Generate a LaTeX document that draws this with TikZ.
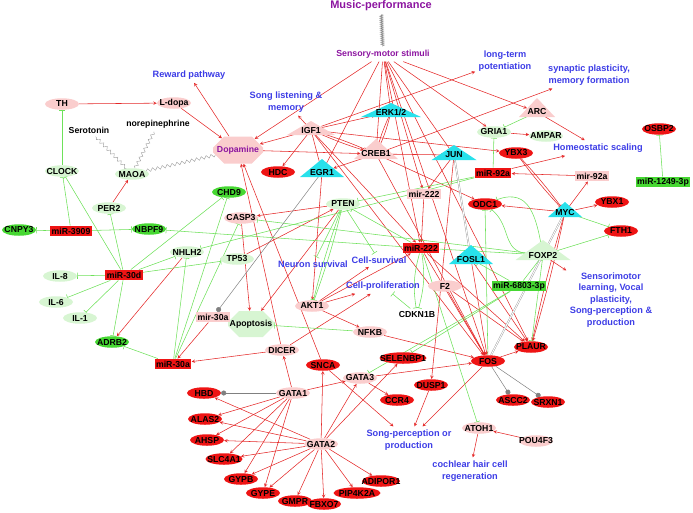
\documentclass[tikz,border=0pt]{standalone}
\usepackage{fontspec}
\setmainfont{Liberation Sans}
\usetikzlibrary{arrows,shapes.geometric,shapes.misc,decorations.pathmorphing}
\definecolor{actred}{RGB}{228,40,40}
\definecolor{inhgreen}{RGB}{110,225,90}
\definecolor{pinknode}{RGB}{250,205,205}
\definecolor{palegreen}{RGB}{215,245,210}
\definecolor{brightgreen}{RGB}{70,215,50}
\definecolor{rednode}{RGB}{238,20,20}
\definecolor{tfcyan}{RGB}{40,225,235}
\definecolor{termblue}{RGB}{60,60,230}
\definecolor{stimpurple}{RGB}{140,20,160}
\pgfdeclarelayer{edges}
\pgfsetlayers{edges,main}
\tikzset{
	every node/.style = {font = \bfseries\fontsize{8.7}{9}\selectfont},
	gene/.style = {ellipse, minimum width = 34pt, minimum height = 11.5pt, inner xsep = -8pt, inner ysep = -1.5pt},
	pink gene/.style = {gene, fill = pinknode},
	pale gene/.style = {gene, fill = palegreen},
	green gene/.style = {gene, fill = brightgreen},
	red gene/.style = {gene, fill = rednode},
	mirna/.style = {rectangle, minimum width = 34pt, minimum height = 10.5pt, inner xsep = 1.5pt, inner ysep = 0pt},
	red mir/.style = {mirna, fill = rednode},
	pink mir/.style = {mirna, fill = pinknode},
	green mir/.style = {mirna, fill = brightgreen},
	tri label/.style = {inner sep = 0.5pt},
	octa/.style = {chamfered rectangle, chamfered rectangle xsep = 7pt, chamfered rectangle ysep = 7pt, inner xsep = -5pt, inner ysep = 0pt},
	term/.style = {text = termblue, align = center, font = \bfseries\fontsize{9.2}{11.5}\selectfont},
	stim/.style = {text = stimpurple},
	act/.style = {->, >=stealth, draw = actred, line width = 0.55pt},
	inh/.style = {-|, draw = inhgreen, line width = 0.55pt},
	bind/.style = {-*, draw = gray, line width = 0.5pt},
	complex/.style = {draw = gray!80, double = white, double distance = 0.9pt, line width = 0.4pt},
	wavy/.style = {draw = gray!80, decorate, decoration = {snake, amplitude = 1.6pt, segment length = 5pt}},
	ladder/.style = {draw = gray, line width = 0.6pt, decorate, decoration = {zigzag, amplitude = 1.5pt, segment length = 2pt}}
}

\begin{document}
\begin{tikzpicture}[x = 1pt, y = 1pt]
	\useasboundingbox (0, 0) rectangle (693, -512);

	% stimuli and outcomes
	\node [stim, font = \bfseries\fontsize{11}{12}\selectfont] (music) at (381, -6) {Music-performance};
	\node [stim, font = \bfseries\fontsize{8.8}{10}\selectfont] (sms) at (383, -54) {Sensory-motor stimuli};
	\node [term] (reward) at (189, -75) {Reward pathway};
	\node [term] (songmem) at (286, -102) {Song listening \&\\memory};
	\node [term] (ltp) at (505, -61) {long-term\\potentiation};
	\node [term] (synplast) at (589, -75) {synaptic plasticity,\\memory formation};
	\node [term] (homeo) at (598, -148) {Homeostatic scaling};
	\node [term] (neursurv) at (313, -264) {Neuron survival};
	\node [term] (cellsurv) at (379, -260) {Cell-survival};
	\node [term] (cellprol) at (383, -286) {Cell-proliferation};
	\node [term] (sensori) at (611, -300) {Sensorimotor\\learning, Vocal\\plasticity,\\Song-perception \&\\production};
	\node [term] (songperc) at (409, -440) {Song-perception or\\production};
	\node [term] (cochlear) at (470, -471) {cochlear hair cell\\regeneration};
	\node (serotonin) at (89, -130) {Serotonin};
	\node (norepi) at (158, -124) {norepinephrine};

	% triangles behind labels
	\foreach \tx/\ty/\tw/\th/\tc in {391/112/60/14/tfcyan, 454/155/45/15/tfcyan, 322/172/44/18/tfcyan,
		565/212/34/15/tfcyan, 471/259/44/19/tfcyan, 543/255/55/20/palegreen,
		376/154/44/20/pinknode, 311/130/48/14/pinknode, 537/112/36/19/pinknode}{
		\fill [\tc] ({\tx-\tw/2}, {-\ty-5}) -- (\tx, {-\ty-5+\th}) -- ({\tx+\tw/2}, {-\ty-5}) -- cycle;
	}
	\node [tri label] (ERK) at (391, -112) {ERK1/2};
	\node [tri label] (JUN) at (454, -155) {JUN};
	\node [tri label] (EGR1) at (322, -172) {EGR1};
	\node [tri label] (MYC) at (565, -212) {MYC};
	\node [tri label] (FOSL1) at (471, -259) {FOSL1};
	\node [tri label] (FOXP2) at (543, -255) {FOXP2};
	\node [tri label] (CREB1) at (376, -154) {CREB1};
	\node [tri label] (IGF1) at (311, -130) {IGF1};
	\node [tri label] (ARC) at (537, -112) {ARC};

	\node [octa, fill = pinknode, text = stimpurple, minimum width = 50pt, minimum height = 27pt] (Dopa) at (238, -150) {Dopamine};
	\node [octa, fill = palegreen, minimum width = 46pt, minimum height = 26pt] (Apop) at (251, -324) {Apoptosis};

	% genes
	\node [pink gene] (TH) at (62, -104) {TH};
	\node [pink gene] (Ldopa) at (174, -103) {L-dopa};
	\node [pink gene] (CASP3) at (241, -218) {CASP3};
	\node [pink gene] (AKT1) at (312, -306) {AKT1};
	\node [pink gene] (F2) at (445, -286) {F2};
	\node [pink gene] (NFKB) at (370, -332) {NFKB};
	\node [pink gene] (DICER) at (282, -350) {DICER};
	\node [pink gene] (GATA3) at (360, -378) {GATA3};
	\node [pink gene] (GATA1) at (293, -393) {GATA1};
	\node [pink gene] (GATA2) at (321, -444) {GATA2};
	\node [pink gene] (ATOH1) at (479, -428) {ATOH1};
	\node [pink gene] (POU4F3) at (536, -441) {POU4F3};
	\node [gene] (CDKN1B) at (417, -314) {CDKN1B};
	\node [pale gene] (CLOCK) at (62, -171) {CLOCK};
	\node [pale gene] (MAOA) at (132, -174) {MAOA};
	\node [pale gene] (PER2) at (109, -208) {PER2};
	\node [pale gene] (GRIA1) at (494, -132) {GRIA1};
	\node [pale gene] (AMPAR) at (546, -136) {AMPAR};
	\node [pale gene] (PTEN) at (343, -204) {PTEN};
	\node [pale gene] (NHLH2) at (187, -252) {NHLH2};
	\node [pale gene] (TP53) at (237, -259) {TP53};
	\node [pale gene] (IL8) at (60, -276) {IL-8};
	\node [pale gene] (IL6) at (56, -302) {IL-6};
	\node [pale gene] (IL1) at (80, -318) {IL-1};
	\node [green gene] (CHD9) at (229, -192) {CHD9};
	\node [green gene] (CNPY3) at (19, -230) {CNPY3};
	\node [green gene] (NBPF9) at (149, -229) {NBPF9};
	\node [green gene] (ADRB2) at (112, -342) {ADRB2};
	\node [red gene] (HDC) at (278, -172) {HDC};
	\node [red gene] (YBX3) at (516, -153) {YBX3};
	\node [red gene] (OSBP2) at (659, -129) {OSBP2};
	\node [red gene] (ODC1) at (485, -204) {ODC1};
	\node [red gene] (YBX1) at (612, -202) {YBX1};
	\node [red gene] (FTH1) at (621, -231) {FTH1};
	\node [red gene] (FOS) at (488, -361) {FOS};
	\node [red gene] (PLAUR) at (531, -347) {PLAUR};
	\node [red gene] (ASCC2) at (513, -400) {ASCC2};
	\node [red gene] (SRXN1) at (548, -402) {SRXN1};
	\node [red gene] (SNCA) at (323, -365) {SNCA};
	\node [red gene, minimum width = 47pt] (SELENBP1) at (403, -358) {SELENBP1};
	\node [red gene] (DUSP1) at (431, -385) {DUSP1};
	\node [red gene] (CCR4) at (397, -400) {CCR4};
	\node [red gene] (HBD) at (204, -393) {HBD};
	\node [red gene] (ALAS2) at (205, -419) {ALAS2};
	\node [red gene] (AHSP) at (207, -440) {AHSP};
	\node [red gene, minimum width = 37pt] (SLC4A1) at (224, -459) {SLC4A1};
	\node [red gene] (GYPB) at (241, -479) {GYPB};
	\node [red gene] (GYPE) at (263, -493) {GYPE};
	\node [red gene] (GMPR) at (295, -501) {GMPR};
	\node [red gene] (FBXO7) at (324, -504) {FBXO7};
	\node [red gene, minimum width = 47pt] (PIP4K2A) at (357, -493) {PIP4K2A};
	\node [red gene, minimum width = 38pt] (ADIPOR1) at (381, -481) {ADIPOR1};

	% micro rnas
	\node [red mir] (miR3909) at (71, -231) {miR-3909};
	\node [red mir] (miR30d) at (124, -275) {miR-30d};
	\node [pink mir] (mir30a) at (213, -317) {mir-30a};
	\node [red mir] (miR30a) at (173, -364) {miR-30a};
	\node [red mir] (miR222) at (421, -248) {miR-222};
	\node [pink mir] (mir222) at (424, -194) {mir-222};
	\node [red mir] (miR92a) at (493, -173) {miR-92a};
	\node [pink mir] (mir92a) at (592, -176) {mir-92a};
	\node [green mir] (miR1249) at (663, -182) {miR-1249-3p};
	\node [green mir] (miR6803) at (519, -286) {miR-6803-3p};

	\begin{pgfonlayer}{edges}
		\draw [ladder] (music) -- (sms);
		\foreach \a in {serotonin, norepi, Dopa}{
			\draw [wavy] (MAOA) -- (\a);
		}

		% activation
		\foreach \a/\b in {TH/Ldopa, Ldopa/Dopa, Dopa/reward, sms/Dopa, sms/ERK, sms/EGR1, sms/CREB1,
			sms/JUN, sms/GRIA1, sms/ARC, sms/mir222, sms/miR222, sms/FOS, sms/PLAUR,
			IGF1/Dopa, IGF1/songmem, IGF1/HDC, IGF1/EGR1, IGF1/ERK, IGF1/ltp, IGF1/YBX3,
			IGF1/miR222, IGF1/FOS, Dopa/CREB1, CREB1/JUN, CREB1/EGR1, CREB1/ODC1,
			CREB1/synplast, CREB1/FOS, ARC/homeo, miR92a/homeo, GRIA1/AMPAR, mir92a/miR92a,
			JUN/mir222, mir222/miR222, JUN/DUSP1, EGR1/AKT1, MYC/mir92a, MYC/YBX1, MYC/ODC1,
			FOXP2/sensori, PER2/MAOA, NHLH2/ADRB2, mir30a/miR30a, DICER/miR30a, GATA1/DICER,
			PTEN/CASP3, TP53/PTEN, CASP3/Apop, PTEN/Apop, AKT1/cellsurv, AKT1/cellprol,
			AKT1/miR222, AKT1/NFKB, NFKB/FOS, DICER/cellprol, SNCA/Dopa, DICER/Dopa,
			GATA2/SNCA, GATA2/GATA3, GATA2/SELENBP1, GATA1/GATA3, GATA3/FOS, GATA3/CCR4,
			SNCA/songperc, DUSP1/songperc, FOS/songperc, FOS/PLAUR, F2/FOS, F2/PLAUR,
			FOSL1/FOS, FOSL1/PLAUR, miR222/FOS, miR222/PLAUR, ATOH1/cochlear, POU4F3/ATOH1,
			GATA2/HBD, GATA2/ALAS2, GATA2/AHSP, GATA2/SLC4A1, GATA2/GYPB, GATA2/GYPE,
			GATA2/GMPR, GATA2/FBXO7, GATA2/PIP4K2A, GATA2/ADIPOR1, GATA1/ALAS2, GATA1/AHSP,
			GATA1/SLC4A1, GATA1/GYPB, GATA1/GYPE}{
			\draw [act] (\a) -- (\b);
		}
		\foreach \bnd in {left, right}{
			\draw [act] (IGF1) to [bend \bnd = 3] (CREB1);
			\draw [act] (ERK) to [bend \bnd = 5] (CREB1);
			\draw [act] (YBX3) to [bend \bnd = 3] (MYC);
			\draw [act] (MYC) to [bend \bnd = 2] (PLAUR);
			\draw [inh] (PTEN) to [bend \bnd = 3] (AKT1);
			\draw [inh] (miR222) to [bend \bnd = 12] (CDKN1B);
		}

		% inhibition
		\foreach \a/\b in {CLOCK/TH, miR3909/CLOCK, miR3909/CNPY3, miR3909/NBPF9, miR30d/CLOCK,
			miR30d/PER2, miR30d/CHD9, miR30d/NHLH2, miR30d/TP53, miR30d/IL8, miR30d/IL6,
			miR30d/IL1, miR30d/ADRB2, miR30a/ADRB2, miR30a/NHLH2, miR30a/CHD9, miR30a/CASP3,
			miR222/NBPF9, miR222/PTEN, miR222/FOXP2, miR222/ATOH1, miR92a/GRIA1, miR92a/PTEN,
			miR92a/NHLH2, ARC/GRIA1, miR1249/OSBP2, MYC/FTH1, FOXP2/FTH1, FOS/ODC1,
			miR6803/FOSL1, miR6803/FOXP2, miR6803/GATA3, miR6803/SELENBP1, FOXP2/PLAUR,
			PTEN/neursurv, PTEN/cellsurv, CDKN1B/cellprol, NFKB/Apop, FOXP2/CASP3}{
			\draw [inh] (\a) -- (\b);
		}
		\draw [inh] (FOXP2) to [out = 100, in = 20, looseness = 1.3] (ODC1);
		\draw [inh] (FOXP2) to [out = 175, in = -40, looseness = 1.2] (ODC1);

		% binding
		\foreach \a/\b in {EGR1/mir30a, GATA1/HBD, FOS/ASCC2, FOS/SRXN1}{
			\draw [bind] (\a) -- (\b);
		}
		\draw [complex] (JUN) -- (FOSL1);
		\draw [complex] (MYC) -- (FOS);
	\end{pgfonlayer}
\end{tikzpicture}
\end{document}
